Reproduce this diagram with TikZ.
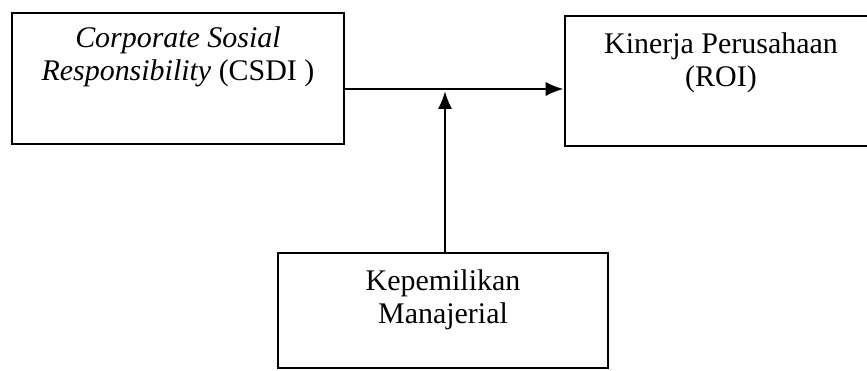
\documentclass[tikz,border=0pt]{standalone}
\usepackage{fontspec}
\setmainfont{Liberation Serif}
\usetikzlibrary{positioning,calc,arrows.meta}
\tikzset{
  varbox/.style={draw, line width=2pt, inner sep=0pt},
  boxtext/.style={align=center, font=\fontsize{21.3}{23.5}\selectfont},
  link/.style={line width=1.8pt, -{Latex[length=0.45cm,width=0.36cm]}}
}
\begin{document}
\begin{tikzpicture}
\useasboundingbox (0,0) rectangle (21.675,9.275);
%boxes
\node[varbox, minimum width=8.3cm, minimum height=3.275cm] (csr) at (4.45,7.3125) {};
\node[varbox, minimum width=7.8cm, minimum height=3.25cm] (roi) at (18.025,7.25) {};
\node[varbox, minimum width=8.25cm, minimum height=2.875cm] (km) at (11.075,1.5125) {};
%text
\node[boxtext] (csrtext) at (4.45,7.85) {\textit{Corporate Sosial}\\\textit{Responsibility} (CSDI )};
\node[boxtext] (roitext) at (18.025,7.7) {Kinerja Perusahaan\\(ROI)};
\node[boxtext] (kmtext) at (11.075,1.78) {Kepemilikan\\Manajerial};
%arrows
\coordinate (mid) at (11.125,7.05);
\draw[link] (mid -| csr.east) -- (mid -| roi.west);
\draw[link] (km.north -| mid) -- ([yshift=-0.05cm]mid);
\end{tikzpicture}
\end{document}
